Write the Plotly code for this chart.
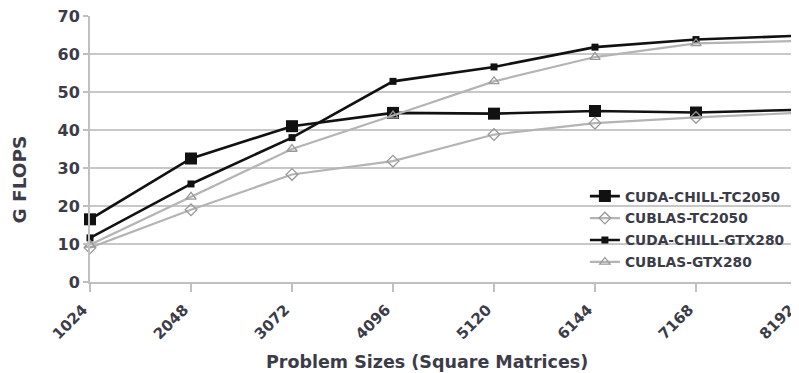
import plotly.graph_objects as go

sizes = [1024, 2048, 3072, 4096, 5120, 6144, 7168, 8192]
tick_labels = ["1024", "2048", "3072", "4096", "5120", "6144", "7168", "8192"]
chill_tc2050 = [16.5, 32.5, 41.0, 44.5, 44.3, 45.0, 44.6, 45.3]
cublas_tc2050 = [9.0, 19.0, 28.3, 31.8, 38.8, 41.8, 43.3, 44.5]
chill_gtx280 = [11.6, 25.8, 38.0, 52.8, 56.6, 61.8, 63.8, 64.8]
cublas_gtx280 = [9.8, 22.4, 35.0, 43.8, 52.8, 59.2, 62.8, 63.4]
x_title = "Problem Sizes (Square Matrices)"
y_title = "G FLOPS"

BLACK = "#111111"
GRAY = "#b4b4b4"
TXT = "#3c3c48"
FONT = "DejaVu Sans"

fig = go.Figure()
fig.add_trace(go.Scatter(x=sizes, y=chill_tc2050, name="CUDA-CHILL-TC2050", mode="lines+markers",
                         legendgroup="a",
                         line=dict(color=BLACK, width=2.6),
                         marker=dict(symbol="square", size=12, color=BLACK), cliponaxis=False))
fig.add_trace(go.Scatter(x=sizes, y=cublas_tc2050, name="CUBLAS-TC2050", mode="lines+markers",
                         legendgroup="b",
                         line=dict(color=GRAY, width=2.2),
                         marker=dict(symbol="diamond-open", size=9, color="#999999", line=dict(width=1.3)), cliponaxis=False))
fig.add_trace(go.Scatter(x=sizes, y=chill_gtx280, name="CUDA-CHILL-GTX280", mode="lines+markers",
                         legendgroup="c",
                         line=dict(color=BLACK, width=2.6),
                         marker=dict(symbol="square", size=7, color=BLACK), cliponaxis=False))
fig.add_trace(go.Scatter(x=sizes, y=cublas_gtx280, name="CUBLAS-GTX280", mode="lines+markers",
                         legendgroup="d",
                         line=dict(color=GRAY, width=2.2),
                         marker=dict(symbol="triangle-up-open", size=9, color="#999999", line=dict(width=1.3)), cliponaxis=False))

# The page body has an 8px margin, so the figure is 8px smaller than the window.
fig.update_layout(
    width=791, height=365,
    margin=dict(l=82, r=2, t=8, b=91, autoexpand=False),
    paper_bgcolor="white", plot_bgcolor="white",
    font=dict(family=FONT, color=TXT, size=13),
    showlegend=True,
    legend=dict(x=0.70, y=0.381, xanchor="left", yanchor="top", bgcolor="rgba(0,0,0,0)",
                font=dict(family=FONT, size=13.8, color=TXT, weight="bold"), tracegroupgap=1, itemwidth=30),
    xaxis=dict(range=[1024, 8192.01], tickvals=sizes, ticktext=tick_labels, tickangle=-45,
               automargin=False, ticklabeloverflow="allow", ticklabelshift=-7, ticklabelstandoff=3,
               showgrid=False, showline=True, linecolor="#c0c0c0", linewidth=2,
               ticks="outside", ticklen=8, tickcolor="#c0c0c0", tickwidth=2,
               tickfont=dict(family=FONT, size=15, color=TXT, weight="bold"), zeroline=False, mirror=False),
    yaxis=dict(range=[0, 70], dtick=10, showgrid=True, gridcolor="#c8c8c8", gridwidth=2,
               automargin=False, ticklabeloverflow="allow",
               showline=True, linecolor="#c0c0c0", linewidth=2, zeroline=False,
               ticks="outside", ticklen=5, tickcolor="#c0c0c0", tickwidth=2,
               tickfont=dict(family=FONT, size=16, color=TXT, weight="bold")),
    annotations=[
        dict(text=x_title, xref="paper", yref="paper", x=0.4767, y=-0.30, xanchor="center", yanchor="middle",
             showarrow=False, font=dict(family=FONT, size=17.5, color=TXT, weight="bold")),
        dict(text=y_title, xref="paper", yref="paper", x=-0.099, y=0.385, xanchor="center", yanchor="middle",
             textangle=-90, showarrow=False, font=dict(family=FONT, size=18.5, color=TXT, weight="bold")),
    ],
)
fig.add_shape(type="line", xref="paper", yref="paper", x0=1, x1=1, y0=0, y1=1,
              line=dict(color="#c0c0c0", width=2))

fig.write_html("out.html")
